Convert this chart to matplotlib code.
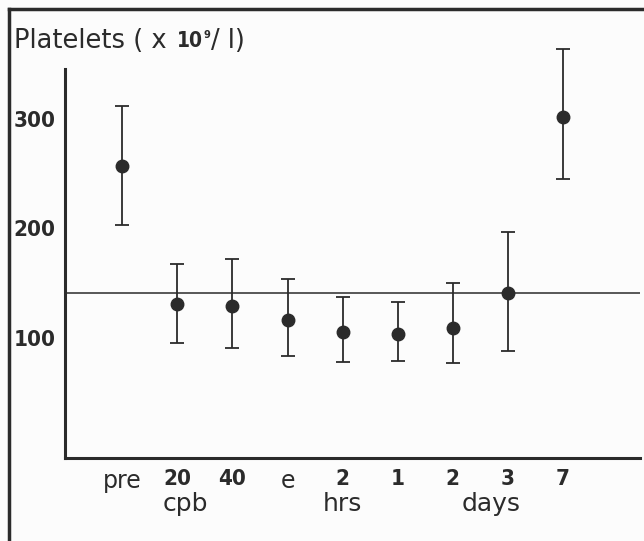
import matplotlib
matplotlib.use("Agg")
import matplotlib.pyplot as plt
from matplotlib.lines import Line2D
from matplotlib import font_manager
from matplotlib.font_manager import FontProperties

# time points along the x axis
time_labels = ["pre", "20", "40", "e", "2", "1", "2", "3", "7"]
group_labels = ["cpb", "hrs", "days"]

# platelet counts (x 10^9 / l), mean with upper and lower error limits
means = [257, 131, 129, 116, 105, 103, 109, 141, 302]
upper = [312, 167, 172, 154, 137, 133, 150, 197, 364]
lower = [203, 95, 91, 83, 78, 79, 77, 88, 245]
normal_level = 141

y_ticks = [100, 200, 300]

INK = "#2b2b2b"
LIGHT = "DejaVu Sans"


def find_narrow_bold():
    '''looks for a condensed bold face for the numerals'''
    best = None
    rank = {"ultra-condensed": 0, "extra-condensed": 1, "condensed": 2,
            "semi-condensed": 3}
    for f in font_manager.fontManager.ttflist:
        st = f.stretch if isinstance(f.stretch, str) else ""
        fn = f.fname.lower()
        narrow = st in rank or "condensed" in fn or "narrow" in fn
        w = f.weight if isinstance(f.weight, int) else (700 if "bold" in str(f.weight) else 400)
        if not narrow or w < 600 or "italic" in fn or "oblique" in fn:
            continue
        r = rank.get(st, 2)
        if best is None or r < best[0]:
            best = (r, f.fname)
    return best[1] if best else None


narrow_path = find_narrow_bold()


def num_font(size):
    if narrow_path:
        return FontProperties(fname=narrow_path, size=size)
    return FontProperties(family="DejaVu Sans", weight="bold", size=size * 0.8)


fig = plt.figure(figsize=(6.44, 5.41), dpi=100)
fig.patch.set_facecolor("#fcfcfc")

W, H = 644.0, 541.0
ax = fig.add_axes([65 / W, 1 - 458 / H, (640 - 65) / W, (458 - 37) / H])
ax.set_facecolor("none")

x = list(range(len(means)))
err = [[m - lo for m, lo in zip(means, lower)],
       [hi - m for m, hi in zip(means, upper)]]

ax.axhline(normal_level, color=INK, lw=1.1, zorder=1)
ax.errorbar(x, means, yerr=err, fmt="o", color=INK, ms=9, elinewidth=1.3,
            capsize=5, capthick=1.3, clip_on=False, zorder=3)

ax.set_xlim(-1.04, 9.4)
ax.set_ylim(-10, 375)

for s in ["top", "right"]:
    ax.spines[s].set_visible(False)
ax.spines["left"].set_bounds(-10, 346)
for s in ["left", "bottom"]:
    ax.spines[s].set_linewidth(2.2)
    ax.spines[s].set_color(INK)

ax.set_yticks(y_ticks)
ax.set_yticklabels([str(v) for v in y_ticks], color=INK)
for lab in ax.get_yticklabels():
    lab.set_fontproperties(num_font(16))
ax.tick_params(axis="y", length=0, pad=7)

ax.set_xticks(x)
ax.set_xticklabels(time_labels, color=INK)
ax.tick_params(axis="x", length=0, pad=8)
for lab in ax.get_xticklabels():
    if lab.get_text().isdigit():
        lab.set_fontproperties(num_font(16))
    else:
        lab.set_fontfamily(LIGHT)
        lab.set_fontsize(17)

# second row of x labels, under their groups
group_at = [1.15, 4.0, 6.7]
for lab, gx in zip(group_labels, group_at):
    ax.text(gx, -0.11, lab, transform=ax.get_xaxis_transform(),
            ha="center", va="center", family=LIGHT, fontsize=18, color=INK)

# y axis title, pieced together for the bold 10 and superscript 9
renderer = fig.canvas.get_renderer()
pieces = [("Platelets ( x ", FontProperties(family=LIGHT, size=18.5), 0, 0),
          ("10", num_font(15), 2, 0),
          ("9", num_font(8), 1, 6),
          ("/ l)", FontProperties(family=LIGHT, size=18.5), 0, 0)]
px = 14.0
for txt, fp, gap, rise in pieces:
    px += gap
    t = fig.text(px / W, 1 - (41 - rise) / H, txt, fontproperties=fp,
                 color=INK, va="center", ha="left")
    px = t.get_window_extent(renderer).x1

# frame of the scanned page
fig.add_artist(Line2D([9 / W, 9 / W], [0, 1 - 9 / H], transform=fig.transFigure,
                      color=INK, lw=2.5))
fig.add_artist(Line2D([9 / W, 1], [1 - 9 / H, 1 - 9 / H], transform=fig.transFigure,
                      color=INK, lw=2.5))

fig.savefig("out.png", dpi=100, facecolor=fig.get_facecolor())
